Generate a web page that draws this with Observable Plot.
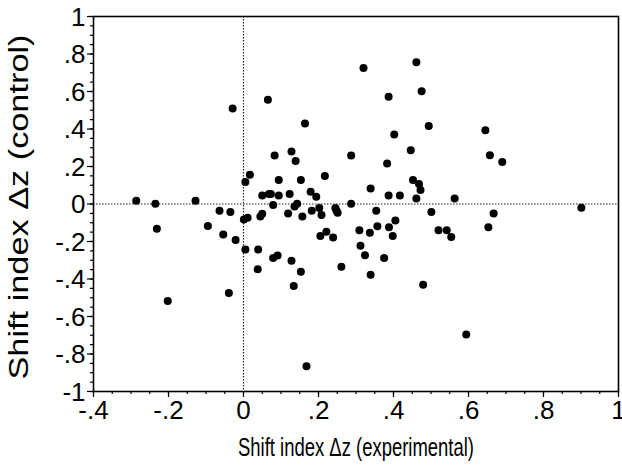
<!DOCTYPE html>
<html>
<head>
<meta charset="utf-8">
<script src="https://cdn.jsdelivr.net/npm/d3@7"></script>
<script src="https://cdn.jsdelivr.net/npm/@observablehq/plot@0.6"></script>
<style>
  html, body { margin: 0; padding: 0; background: #fff; }
  #chart { width: 622px; height: 467px; }
</style>
</head>
<body>
<div id="chart"></div>
<script>
// Shift index Δz (experimental) values
const xValues = [
  -0.029, 0.065, 0.164, 0.083, 0.128, 0.139, 0.287, 0.017, 0.005, 0.094,
  0.153, 0.217, 0.050, 0.068, 0.073, 0.094, 0.123, 0.179, 0.194, -0.286,
  -0.128, 0.320, 0.461, 0.387, 0.475, 0.494, 0.402, 0.645, 0.446, 0.657,
  0.383, 0.690, 0.452, 0.468, 0.472, 0.339, 0.387, 0.417, 0.461, 0.563,
  -0.235, -0.231, -0.202, -0.064, -0.035, -0.095, -0.054, -0.021, -0.039, 0.001,
  0.011, 0.005, 0.079, 0.136, 0.143, 0.119, 0.045, 0.050, 0.157, 0.182,
  0.202, 0.208, 0.245, 0.248, 0.251, 0.287, 0.205, 0.221, 0.239, 0.309,
  0.337, 0.312, 0.039, 0.038, 0.079, 0.091, 0.128, 0.153, 0.134, 0.261,
  0.168, 0.354, 0.501, 0.667, 0.901, 0.357, 0.388, 0.405, 0.398, 0.324,
  0.375, 0.339, 0.520, 0.542, 0.554, 0.653, 0.479, 0.594
];
// Shift index Δz (control) values
const yValues = [
  0.510, 0.556, 0.430, 0.259, 0.280, 0.229, 0.259, 0.156, 0.117, 0.128,
  0.128, 0.149, 0.046, 0.053, 0.053, 0.046, 0.053, 0.066, 0.039, 0.018,
  0.018, 0.726, 0.756, 0.572, 0.602, 0.416, 0.371, 0.394, 0.287, 0.260,
  0.216, 0.224, 0.128, 0.107, 0.075, 0.083, 0.046, 0.046, 0.030, 0.030,
  0.002, -0.132, -0.517, -0.036, -0.043, -0.117, -0.162, -0.192, -0.474, -0.082,
  -0.073, -0.243, -0.005, -0.013, 0.002, -0.050, -0.066, -0.052, -0.066, -0.036,
  -0.021, -0.059, -0.021, -0.036, -0.047, 0.002, -0.171, -0.148, -0.178, -0.140,
  -0.153, -0.222, -0.243, -0.348, -0.288, -0.274, -0.303, -0.361, -0.437, -0.334,
  -0.865, -0.036, -0.043, -0.050, -0.020, -0.118, -0.124, -0.088, -0.170, -0.273,
  -0.288, -0.377, -0.140, -0.140, -0.176, -0.124, -0.430, -0.696
];
const xTicks = [-0.4, -0.2, 0, 0.2, 0.4, 0.6, 0.8, 1];
const yTicks = [-1, -0.8, -0.6, -0.4, -0.2, 0, 0.2, 0.4, 0.6, 0.8, 1];
const xLabel = "Shift index \u0394z (experimental)";
const yLabel = "Shift index \u0394z (control)";

const points = xValues.map((x, i) => ({x, y: yValues[i]}));
const fmt = d => d === 0 ? "0" : String(+d.toFixed(2)).replace("0.", ".");
const minorX = d3.range(-0.4, 1.0001, 0.05).map(v => +v.toFixed(2));
const minorY = d3.range(-1, 1.0001, 0.05).map(v => +v.toFixed(2));
const font = "'Liberation Sans', Arial, sans-serif";

const plot = Plot.plot({
  width: 622,
  height: 467,
  marginLeft: 93,
  marginRight: 4,
  marginTop: 16,
  marginBottom: 76,
  style: {fontFamily: font, fontSize: "26px", background: "#fff", color: "#000", overflow: "visible"},
  x: {domain: [-0.4, 1]},
  y: {domain: [-1, 1]},
  marks: [
    Plot.ruleX([0], {stroke: "#222", strokeWidth: 1.2, strokeDasharray: "1.5,1.5"}),
    Plot.ruleY([0], {stroke: "#222", strokeWidth: 1.2, strokeDasharray: "1.5,1.5"}),
    Plot.dot(points, {x: "x", y: "y", r: 4, fill: "#000", stroke: null}),
    Plot.frame({stroke: "#000", strokeWidth: 1.6}),
    // tick marks (minor every .05, major every .2)
    Plot.axisX(minorX, {tickSize: 3, tickFormat: () => "", label: null, strokeWidth: 1.2}),
    Plot.axisX(xTicks, {tickSize: 6, tickFormat: () => "", label: null, strokeWidth: 1.2}),
    Plot.axisY(minorY, {tickSize: 3, tickFormat: () => "", label: null, strokeWidth: 1.2}),
    Plot.axisY(yTicks, {tickSize: 6, tickFormat: () => "", label: null, strokeWidth: 1.2}),
    // tick labels placed through the x / y scales
    Plot.text(xTicks, {x: d => d, frameAnchor: "bottom", lineAnchor: "top", dy: 9, text: fmt, fontSize: 26, fill: "#000", fontFamily: font}),
    Plot.text(yTicks, {y: d => d, frameAnchor: "left", textAnchor: "end", lineAnchor: "middle", dx: -8, dy: 1, text: fmt, fontSize: 26, fill: "#000", fontFamily: font}),
    // axis titles
    Plot.text([xLabel], {frameAnchor: "bottom", lineAnchor: "middle", dy: 56, fontSize: 26, fill: "#000", fontFamily: font}),
    Plot.text([yLabel], {frameAnchor: "left", textAnchor: "middle", dx: -74, dy: 3, rotate: -90, fontSize: 27, fill: "#000", fontFamily: font})
  ]
});
document.getElementById("chart").append(plot);

// The reference titles are drawn at fixed lengths; mimic with textLength.
plot.querySelectorAll("text").forEach(t => {
  const s = t.textContent;
  if (s === xLabel) {
    t.setAttribute("textLength", 236); t.setAttribute("lengthAdjust", "spacingAndGlyphs");
  } else if (s === yLabel) {
    t.setAttribute("textLength", 345); t.setAttribute("lengthAdjust", "spacingAndGlyphs");
  }
});
</script>
</body>
</html>
